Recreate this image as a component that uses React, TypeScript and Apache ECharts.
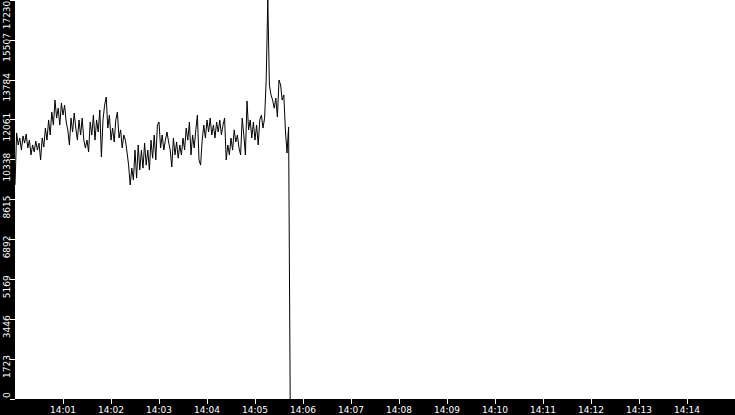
import { useEffect, useRef } from "react";
import * as echarts from "echarts";

// one sample every 2 seconds, starting at 14:00:00
const sampleStepSec = 2;
const startHour = 14;
const xMaxSec = 900;
const yMax = 17230;
const yStep = 1723;

const values = [
  9240, 11490, 10970, 11270, 10750, 11360, 11050, 11440, 10840, 11180,
  10540, 10970, 10670, 11140, 10750, 11050, 10320, 11270, 10880, 11700,
  11180, 12050, 11400, 12390, 11830, 12910, 12130, 12560, 11830, 12780,
  12260, 12690, 11960, 11620, 10970, 12130, 11530, 12350, 11700, 11180,
  12050, 11400, 12130, 11180, 10840, 11180, 10670, 11960, 11400, 12260,
  11180, 12050, 11530, 12480, 10450, 12050, 12690, 13040, 11700, 12260,
  11180, 11700, 11100, 12050, 12390, 11270, 11620, 10840, 11400, 11180,
  10670, 10100, 9240, 9970, 9460, 10750, 9540, 10970, 9890, 10750,
  9970, 11050, 10100, 10750, 9890, 11180, 10400, 11400, 10320, 11830,
  11960, 10840, 11400, 10750, 11180, 11530, 11100, 10750, 10020, 11270,
  10540, 11100, 10400, 10970, 10540, 11270, 10750, 11700, 11180, 11960,
  10540, 11400, 10840, 11620, 12260, 10320, 10100, 11180, 11830, 11270,
  12050, 11530, 12130, 11400, 11830, 11270, 11960, 11530, 12050, 11400,
  11830, 12130, 10320, 10970, 10540, 11270, 10750, 11620, 11100, 11400,
  10840, 10540, 12130, 11400, 10540, 12870, 11620, 12050, 11270, 11960,
  11180, 11830, 10970, 12050, 12260, 11700, 12130, 13775, 17230, 13560,
  13130, 12910, 12560, 12990, 12180, 13775, 13560, 12910, 13130, 11620,
  10620, 11745, 0,
];

const labelFont = { color: "#fff", fontFamily: "DejaVu Sans", fontSize: 9 };

function App() {
  const chartRef = useRef<HTMLDivElement>(null);

  useEffect(() => {
    const chart = echarts.init(chartRef.current!, null, { renderer: "svg" });
    chart.setOption({
      animation: false,
      backgroundColor: "#000",
      grid: {
        left: 15,
        right: 0,
        top: 0,
        bottom: 16,
        show: true,
        backgroundColor: "#fff",
        borderWidth: 0,
        outerBoundsMode: "none",
      },
      xAxis: {
        type: "value",
        min: 0,
        max: xMaxSec,
        interval: 60,
        axisLine: { show: false },
        axisTick: { show: true, length: 5, lineStyle: { color: "#fff" } },
        splitLine: { show: false },
        axisLabel: {
          ...labelFont,
          margin: 6,
          showMinLabel: false,
          showMaxLabel: false,
          formatter: (s: number) => `${startHour}:${String(s / 60).padStart(2, "0")}`,
        },
      },
      yAxis: {
        type: "value",
        min: 0,
        max: yMax,
        interval: yStep,
        axisLine: { show: false },
        axisTick: { show: true, length: 5, lineStyle: { color: "#fff" } },
        splitLine: { show: false },
        axisLabel: {
          ...labelFont,
          rotate: 90,
          margin: 4,
          // shift labels along the axis: lowest and highest are kept inside the strip
          formatter: (v: number) =>
            v === 0 ? "{lo|0}" : v === yMax ? `{hi|${v}}` : `{n|${v}}`,
          rich: {
            n: { ...labelFont, padding: [0, 15, 0, 0] },
            lo: { ...labelFont, padding: [0, 0, 0, 8] },
            hi: { ...labelFont, padding: [0, 30, 0, 0] },
          },
        },
      },
      series: [
        {
          type: "line",
          data: values.map((v, i) => [i * sampleStepSec, v]),
          showSymbol: false,
          lineStyle: { color: "#000", width: 1 },
        },
      ],
    });
    return () => chart.dispose();
  }, []);

  return (
    <div
      ref={chartRef}
      style={{ position: "fixed", left: 0, top: 0, width: 735, height: 415, background: "#000" }}
    />
  );
}

export default App;
